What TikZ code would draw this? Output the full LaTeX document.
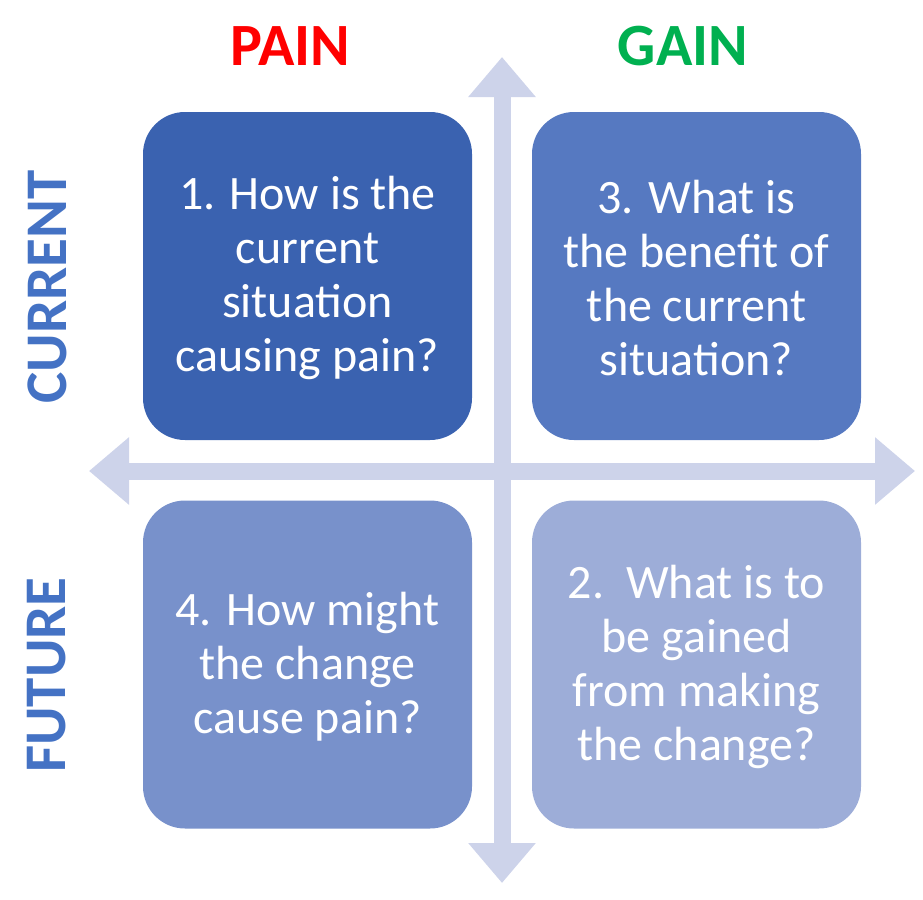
\documentclass[tikz,border=0pt]{standalone}
\usepackage{fontspec}
\setmainfont{Carlito}
\usetikzlibrary{arrows.meta}
\definecolor{qa}{HTML}{3A62B0}
\definecolor{qb}{HTML}{5679C1}
\definecolor{qc}{HTML}{7891CB}
\definecolor{qd}{HTML}{9DADD8}
\definecolor{axis}{HTML}{CDD3EA}
\definecolor{painred}{HTML}{FF0000}
\definecolor{gaingreen}{HTML}{00B050}
\definecolor{sidelabel}{HTML}{4472C4}
\tikzset{
  quad/.style={rounded corners=42pt, minimum width=329pt, minimum height=328pt, inner sep=0pt},
  qtext/.style={text=white, align=center, font=\fontsize{48}{54}\selectfont},
  axisarrow/.style={draw=axis, line width=17pt, {Triangle[width=65pt,length=40pt]}-{Triangle[width=65pt,length=40pt]}},
  toplabel/.style={font=\fontsize{60}{64}\selectfont\bfseries},
  sidelbl/.style={font=\fontsize{59}{60}\selectfont\bfseries, text=sidelabel, rotate=90}
}
\begin{document}
\begin{tikzpicture}[x=1pt,y=-1pt]
\useasboundingbox (0,0) rectangle (923,899);
% axes
\coordinate (vtop) at (502,57);
\coordinate (vbot) at (502,883);
\coordinate (hleft) at (89,471);
\coordinate (hright) at (915,471);
\draw[axisarrow] (vbot) -- (vtop);
\draw[axisarrow] (hleft) -- (hright);
% quadrants
\node[quad, fill=qa] (q1) at (307.5,276) {};
\node[quad, fill=qb] (q3) at (696.5,276) {};
\node[quad, fill=qc] (q4) at (307.5,664.5) {};
\node[quad, fill=qd] (q2) at (696.5,664.5) {};
\node[qtext, yshift=-2pt] (t1) at (q1.center) {1. How is the\\current\\situation\\causing pain?};
\node[qtext, yshift=-2pt] (t3) at (q3.center) {3. What is\\the benefit of\\the current\\situation?};
\node[qtext, yshift=-2pt] (t4) at (q4.center) {4. How might\\the change\\cause pain?};
\node[qtext, yshift=-2pt] (t2) at (q2.center) {2.\ \ What is to\\be gained\\from making\\the change?};
% labels
\node[toplabel, text=painred] (pain) at (290,46) {PAIN};
\node[toplabel, text=gaingreen] (gain) at (683,46) {GAIN};
\node[sidelbl] (cur) at (47,287) {CURRENT};
\node[sidelbl] (fut) at (47,675) {FUTURE};
\end{tikzpicture}
\end{document}
